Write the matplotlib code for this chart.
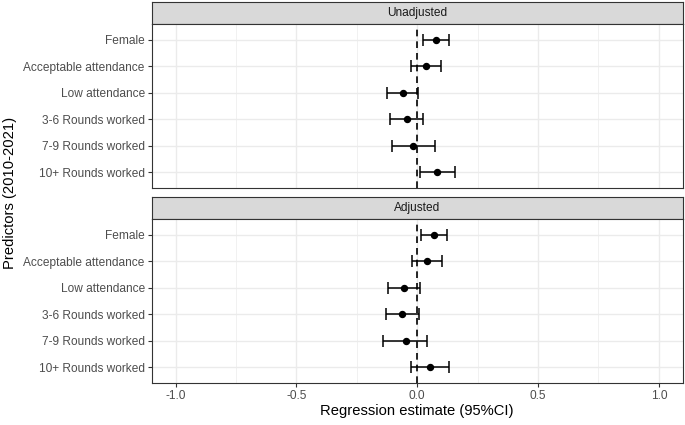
import matplotlib
matplotlib.use("Agg")
import matplotlib.pyplot as plt
import numpy as np

plt.rcParams['font.family'] = ['Liberation Sans', 'DejaVu Sans']

predictors = ["Female", "Acceptable attendance", "Low attendance",
              "3-6 Rounds worked", "7-9 Rounds worked", "10+ Rounds worked"]

# Unadjusted estimates and 95% CI
unadj_est = [0.079, 0.036, -0.061, -0.043, -0.017, 0.083]
unadj_lo = [0.025, -0.026, -0.124, -0.112, -0.105, 0.011]
unadj_hi = [0.133, 0.097, 0.003, 0.022, 0.072, 0.158]

# Adjusted estimates and 95% CI
adj_est = [0.069, 0.040, -0.054, -0.062, -0.048, 0.051]
adj_lo = [0.014, -0.021, -0.120, -0.131, -0.141, -0.025]
adj_hi = [0.122, 0.102, 0.012, 0.006, 0.041, 0.130]

panels = [("Unadjusted", unadj_est, unadj_lo, unadj_hi),
          ("Adjusted", adj_est, adj_lo, adj_hi)]

W, H = 685, 425
fig = plt.figure(figsize=(W / 100, H / 100), dpi=100)

def px_axes(x0, y0, x1, y1):
    # pixel box measured from the top-left corner
    return fig.add_axes([x0 / W, 1 - y1 / H, (x1 - x0) / W, (y1 - y0) / H])

border = '#333333'
grid = '#EBEBEB'
tick_fs = 8.6
boxes = [(2, 24, 188), (197, 219, 383)]
ypos = np.arange(len(predictors))

for (title, est, lo, hi), (s0, p0, p1) in zip(panels, boxes):
    strip = px_axes(151.5, s0, 683, p0)
    strip.set_facecolor('#D9D9D9')
    strip.set_xticks([])
    strip.set_yticks([])
    for sp in strip.spines.values():
        sp.set_color(border)
        sp.set_linewidth(0.8)
    strip.text(0.5, 0.5, title, ha='center', va='center', fontsize=tick_fs,
               color='#1A1A1A', transform=strip.transAxes)

    ax = px_axes(151.5, p0, 683, p1)
    ax.set_xlim(-1.1, 1.1)
    ax.set_ylim(len(predictors) - 0.4, -0.6)
    for v in [-0.75, -0.25, 0.25, 0.75]:
        ax.axvline(v, color=grid, lw=0.5, zorder=0)
    for v in [-1, -0.5, 0, 0.5, 1]:
        ax.axvline(v, color=grid, lw=1.0, zorder=0)
    for y in ypos:
        ax.axhline(y, color=grid, lw=1.0, zorder=0)
    ax.axvline(0, color='black', lw=1.2, ls=(0, (4, 3)), zorder=2)

    est = np.array(est)
    xerr = [est - np.array(lo), np.array(hi) - est]
    ax.errorbar(est, ypos, xerr=xerr, fmt='o', color='black', ms=4.3,
                elinewidth=1.1, capsize=4.6, capthick=1.1, zorder=3)

    ax.set_yticks(ypos)
    ax.set_yticklabels(predictors, fontsize=tick_fs, color='#4D4D4D')
    ax.set_xticks([-1, -0.5, 0, 0.5, 1])
    ax.tick_params(axis='both', length=2.8, width=0.8, color=border, pad=2)
    for sp in ax.spines.values():
        sp.set_color(border)
        sp.set_linewidth(0.8)
    if title == "Adjusted":
        ax.set_xticklabels(["-1.0", "-0.5", "0.0", "0.5", "1.0"],
                           fontsize=tick_fs, color='#4D4D4D')
        ax.set_xlabel("Regression estimate (95%CI)", fontsize=10.6, labelpad=2)
    else:
        ax.tick_params(axis='x', bottom=False, labelbottom=False)

fig.text(10 / W, 1 - 193 / H, "Predictors (2010-2021)", rotation=90,
         ha='center', va='center', fontsize=10.6)

fig.savefig("out.png", dpi=100)
